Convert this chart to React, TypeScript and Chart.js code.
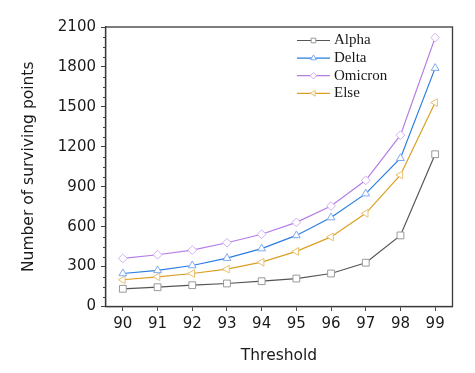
import React, { useEffect, useRef } from "react";
import { Chart, registerables } from "chart.js";
import { drawPoint } from "chart.js/helpers";

Chart.register(...registerables);

const categories = ["90", "91", "92", "93", "94", "95", "96", "97", "98", "99"];
const alpha = [133, 145, 160, 173, 190, 210, 248, 329, 534, 1144];
const delta = [248, 271, 308, 363, 435, 534, 668, 848, 1114, 1791];
const omicron = [361, 389, 424, 479, 543, 632, 755, 948, 1287, 2020];
const elseSeries = [201, 223, 248, 281, 333, 414, 523, 700, 988, 1532];
const yMax = 2100;
const yStep = 300;
const yMinorStep = 75;

const SANS = "'DejaVu Sans', sans-serif";

const framePlugin = {
  id: "frame",
  afterDraw(chart: any) {
    const { ctx, chartArea } = chart;
    const y = chart.scales.y;
    ctx.save();
    ctx.strokeStyle = "#444";
    ctx.lineWidth = 1;
    for (let v = 0; v <= yMax; v += yMinorStep) {
      if (v % yStep === 0) continue;
      const py = Math.round(y.getPixelForValue(v)) + 0.5;
      ctx.beginPath();
      ctx.moveTo(chartArea.left - 2.5, py);
      ctx.lineTo(chartArea.left, py);
      ctx.stroke();
    }
    ctx.strokeStyle = "#3a3a3a";
    ctx.lineWidth = 1.3;
    ctx.strokeRect(chartArea.left, chartArea.top, chartArea.right - chartArea.left, chartArea.bottom - chartArea.top);
    ctx.restore();
  },
};

const legendPlugin = {
  id: "customLegend",
  afterDraw(chart: any) {
    const { ctx } = chart;
    const x0 = 297;
    const x1 = 330;
    const yStart = 40.5;
    const dy = 17.6;
    ctx.save();
    chart.data.datasets.forEach((ds: any, i: number) => {
      const yy = yStart + i * dy;
      ctx.strokeStyle = ds.borderColor;
      ctx.lineWidth = 1.2;
      ctx.beginPath();
      ctx.moveTo(x0, yy);
      ctx.lineTo(x1, yy);
      ctx.stroke();
      ctx.fillStyle = "#fff";
      ctx.strokeStyle = ds.pointBorderColor;
      ctx.lineWidth = 1;
      drawPoint(ctx, { pointStyle: ds.pointStyle, rotation: ds.pointRotation || 0, radius: 3.3, borderWidth: 1 } as any, (x0 + x1) / 2, yy);
      ctx.fillStyle = "#1a1a1a";
      ctx.font = "15px 'Liberation Serif', serif";
      ctx.textAlign = "left";
      ctx.textBaseline = "middle";
      ctx.fillText(ds.label, x1 + 4, yy);
    });
    ctx.restore();
  },
};

export default function App() {
  const ref = useRef<HTMLCanvasElement>(null);
  useEffect(() => {
    if (!ref.current) return;
    const mk = (label: string, data: number[], line: string, marker: string, style: string, rot = 0, r = 4.3) => ({
      label,
      data,
      borderColor: line,
      borderWidth: 1.2,
      pointStyle: style,
      pointRotation: rot,
      pointRadius: r,
      pointBorderColor: marker,
      pointBackgroundColor: "#fff",
      pointBorderWidth: 1,
      tension: 0,
    });
    const chart = new Chart(ref.current, {
      type: "line",
      data: {
        labels: categories,
        datasets: [
          mk("Alpha", alpha, "#555555", "#9a9a9a", "rect", 0, 4.8),
          mk("Delta", delta, "#2b7de0", "#7eaaf0", "triangle", 0, 4.5),
          mk("Omicron", omicron, "#b47de6", "#d2aef2", "rectRot", 0, 4.4),
          mk("Else", elseSeries, "#daa021", "#e8c06e", "triangle", -90, 4.5),
        ] as any,
      },
      options: {
        animation: false,
        responsive: false,
        layout: { padding: { left: 20, right: 22.5, top: 27, bottom: 8 } },
        plugins: { legend: { display: false }, tooltip: { enabled: false } },
        scales: {
          x: {
            type: "category",
            offset: true,
            grid: { offset: false, drawOnChartArea: false, drawTicks: true, tickLength: 4.5, color: "#444" },
            border: { display: true, color: "#3a3a3a", width: 1.3 },
            ticks: { color: "#1a1a1a", font: { family: SANS, size: 15 }, padding: 4.5, maxRotation: 0, autoSkip: false },
            title: { display: true, text: "Threshold", color: "#1a1a1a", font: { family: SANS, size: 15.5 }, padding: 0 },
            afterFit: (s: any) => { s.height = 58.5; },
          },
          y: {
            min: 0,
            max: yMax,
            grid: { drawOnChartArea: false, drawTicks: true, tickLength: 4.5, color: "#444" },
            border: { display: true, color: "#3a3a3a", width: 1.3 },
            ticks: {
              stepSize: yStep,
              color: "#1a1a1a",
              font: { family: SANS, size: 15 },
              padding: 5,
              callback: (v: any) => String(v),
            },
            title: { display: true, text: "Number of surviving points", color: "#1a1a1a", font: { family: SANS, size: 15.5 }, padding: 0 },
            afterFit: (s: any) => { s.width = 85.5; },
          },
        },
      },
      plugins: [framePlugin, legendPlugin],
    });
    return () => chart.destroy();
  }, []);
  return (
    <div style={{ position: "fixed", left: 0, top: 0, width: 475, height: 373, background: "#fff" }}>
      <canvas ref={ref} width={475} height={373} style={{ display: "block", width: 475, height: 373 }} />
    </div>
  );
}
